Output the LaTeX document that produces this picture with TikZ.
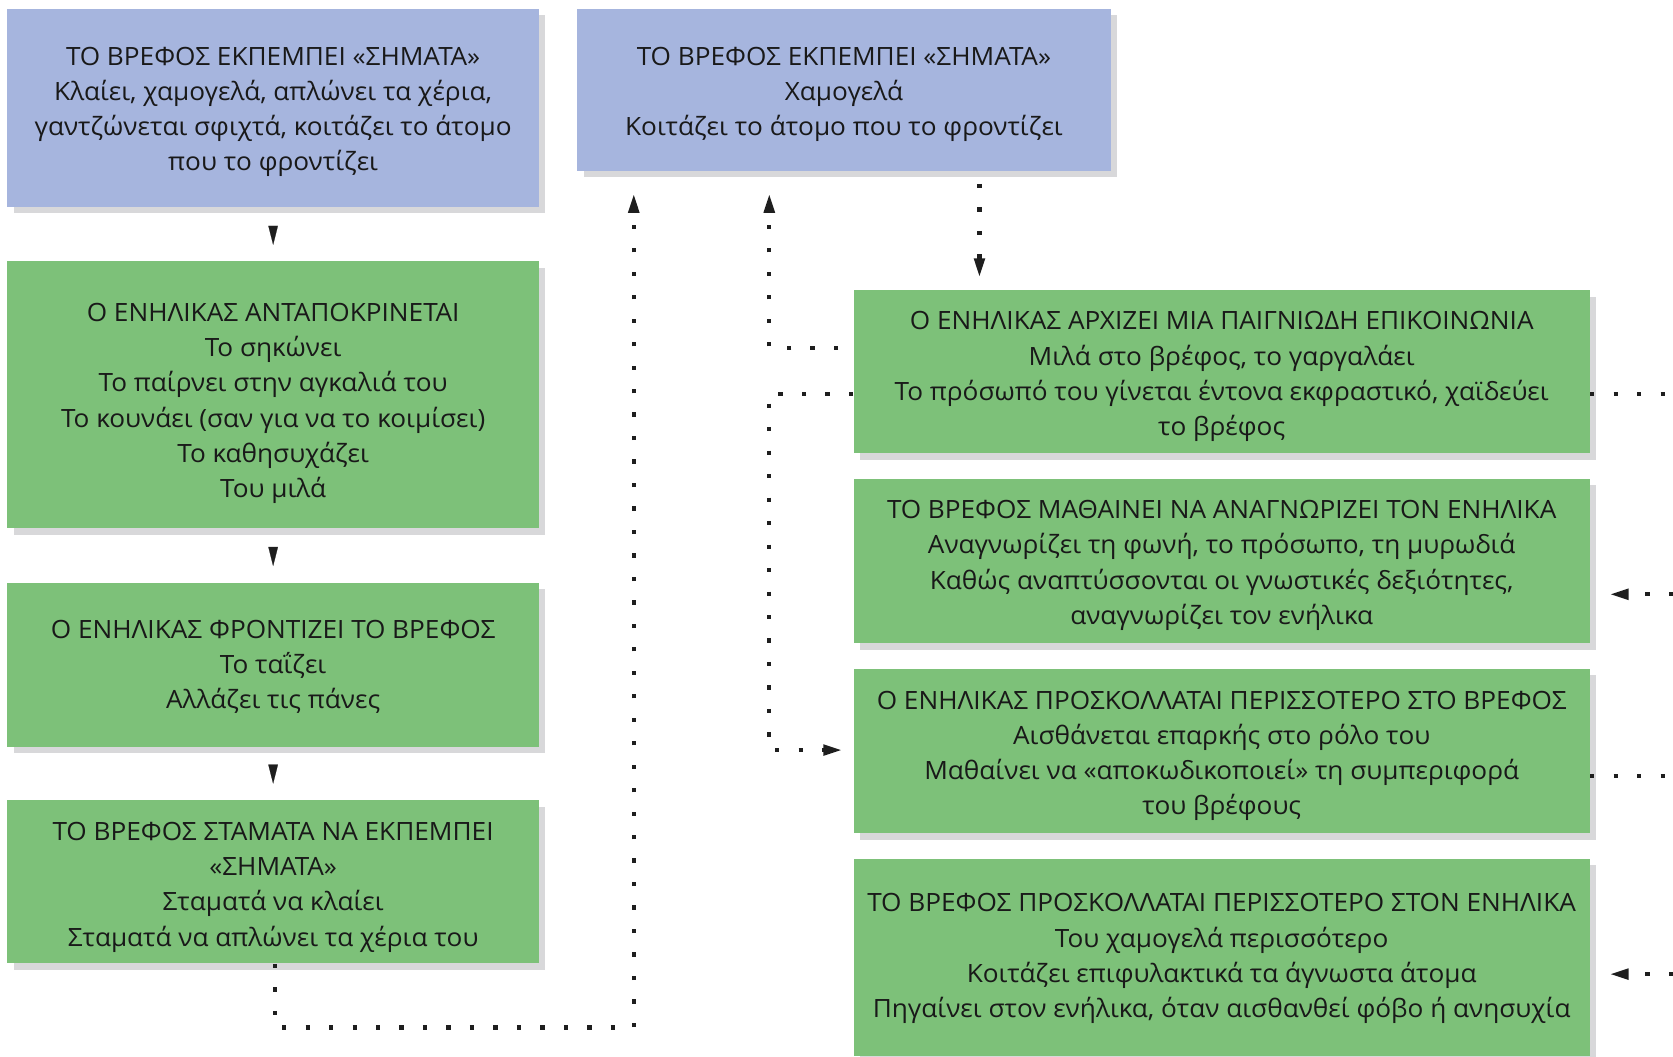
\documentclass[tikz,border=0pt]{standalone}
\usepackage{fontspec}
\setmainfont[FakeStretch=1.04]{Open Sans}
\usetikzlibrary{arrows.meta,shadows}
\definecolor{boxblue}{RGB}{166,181,222}
\definecolor{boxgreen}{RGB}{125,193,121}
\definecolor{shadowgray}{RGB}{216,216,218}
\definecolor{dotcol}{RGB}{30,30,30}
\tikzset{
  box/.style={rectangle, inner sep=0pt,
    general shadow={fill=shadowgray, shadow xshift=3pt, shadow yshift=-3pt}},
  bluebox/.style={box, fill=boxblue},
  greenbox/.style={box, fill=boxgreen},
  boxtext/.style={inner sep=0pt, align=center, text=black!90,
    font=\fontsize{11.8pt}{16.5pt}\selectfont},
  dotline/.style={dotcol, line width=2pt, dash pattern=on 2pt off 9pt},
  tiphead/.style={-{Triangle[length=9pt,width=4.8pt]}},
  tiponly/.style={dotcol, line width=0.1pt, -{Triangle[length=9pt,width=4.5pt]}, shorten <=9pt, shorten >=7.5pt}
}
\begin{document}
\begin{tikzpicture}[x=0.5pt,y=-0.5pt]
\useasboundingbox (0,0) rectangle (1568,990);
\clip (0,0) rectangle (1568,990);
% boxes
\node[bluebox, minimum width=249pt, minimum height=93pt] (A) at (256,101) {};
\node[greenbox, minimum width=249pt, minimum height=125pt] (C) at (256,370) {};
\node[greenbox, minimum width=249pt, minimum height=77pt] (D) at (256,623) {};
\node[greenbox, minimum width=249pt, minimum height=76.5pt] (E) at (256,826.5) {};
\node[bluebox, minimum width=250pt, minimum height=76pt] (B) at (791,84) {};
\node[greenbox, minimum width=345pt, minimum height=76.5pt] (R1) at (1145,348.5) {};
\node[greenbox, minimum width=345pt, minimum height=77pt] (R2) at (1145,526) {};
\node[greenbox, minimum width=345pt, minimum height=77pt] (R3) at (1145,704) {};
\node[greenbox, minimum width=345pt, minimum height=92.5pt] (R4) at (1145,897.5) {};
% texts
\node[boxtext] (At) at ([yshift=-2pt]A.center)
  {ΤΟ ΒΡΕΦΟΣ ΕΚΠΕΜΠΕΙ «ΣΗΜΑΤΑ»\\Κλαίει, χαμογελά, απλώνει τα χέρια,\\γαντζώνεται σφιχτά, κοιτάζει το άτομο\\που το φροντίζει};
\node[boxtext] (Ct) at ([yshift=-4pt]C.center)
  {Ο ΕΝΗΛΙΚΑΣ ΑΝΤΑΠΟΚΡΙΝΕΤΑΙ\\Το σηκώνει\\Το παίρνει στην αγκαλιά του\\Το κουνάει (σαν για να το κοιμίσει)\\Το καθησυχάζει\\Του μιλά};
\node[boxtext] (Dt) at ([yshift=-1pt]D.center)
  {Ο ΕΝΗΛΙΚΑΣ ΦΡΟΝΤΙΖΕΙ ΤΟ ΒΡΕΦΟΣ\\Το ταΐζει\\Αλλάζει τις πάνες};
\node[boxtext] (Et) at ([yshift=-2.5pt]E.center)
  {ΤΟ ΒΡΕΦΟΣ ΣΤΑΜΑΤΑ ΝΑ ΕΚΠΕΜΠΕΙ\\«ΣΗΜΑΤΑ»\\Σταματά να κλαίει\\Σταματά να απλώνει τα χέρια του};
\node[boxtext] (Bt) at ([yshift=-2.2pt]B.center)
  {ΤΟ ΒΡΕΦΟΣ ΕΚΠΕΜΠΕΙ «ΣΗΜΑΤΑ»\\Χαμογελά\\Κοιτάζει το άτομο που το φροντίζει};
\node[boxtext] (R1t) at ([yshift=-2.2pt]R1.center)
  {Ο ΕΝΗΛΙΚΑΣ ΑΡΧΙΖΕΙ ΜΙΑ ΠΑΙΓΝΙΩΔΗ ΕΠΙΚΟΙΝΩΝΙΑ\\Μιλά στο βρέφος, το γαργαλάει\\Το πρόσωπό του γίνεται έντονα εκφραστικό, χαϊδεύει\\το βρέφος};
\node[boxtext] (R2t) at ([yshift=-2pt]R2.center)
  {ΤΟ ΒΡΕΦΟΣ ΜΑΘΑΙΝΕΙ ΝΑ ΑΝΑΓΝΩΡΙΖΕΙ ΤΟΝ ΕΝΗΛΙΚΑ\\Αναγνωρίζει τη φωνή, το πρόσωπο, τη μυρωδιά\\Καθώς αναπτύσσονται οι γνωστικές δεξιότητες,\\αναγνωρίζει τον ενήλικα};
\node[boxtext] (R3t) at ([yshift=-2.2pt]R3.center)
  {Ο ΕΝΗΛΙΚΑΣ ΠΡΟΣΚΟΛΛΑΤΑΙ ΠΕΡΙΣΣΟΤΕΡΟ ΣΤΟ ΒΡΕΦΟΣ\\Αισθάνεται επαρκής στο ρόλο του\\Μαθαίνει να «αποκωδικοποιεί» τη συμπεριφορά\\του βρέφους};
\node[boxtext] (R4t) at ([yshift=-0.5pt]R4.center)
  {ΤΟ ΒΡΕΦΟΣ ΠΡΟΣΚΟΛΛΑΤΑΙ ΠΕΡΙΣΣΟΤΕΡΟ ΣΤΟΝ ΕΝΗΛΙΚΑ\\Του χαμογελά περισσότερο\\Κοιτάζει επιφυλακτικά τα άγνωστα άτομα\\Πηγαίνει στον ενήλικα, όταν αισθανθεί φόβο ή ανησυχία};
% coordinates for routing
\coordinate (eL) at (258,963);
\coordinate (eR) at (594,963);
\coordinate (m1) at (721,326);
\coordinate (m2) at (721,369);
\coordinate (m3) at (721,703);
\coordinate (m4) at (918,0);
\coordinate (r1) at (1568,369);
\coordinate (r2) at (1568,557);
\coordinate (r3) at (1568,727);
\coordinate (r4) at (1568,913);
% left chain arrowheads
\draw[tiponly] (A.south) -- (C.north);
\draw[tiponly] (C.south) -- (D.north);
\draw[tiponly] (D.south) -- (E.north);
% dotted connectors
\draw[dotline, tiphead, shorten >=10.5pt] ([xshift=1pt]E.south) -- (eL) -- (eR) -- (B.south -| eR);
\draw[dotline, tiphead, shorten <=7pt, shorten >=10.5pt] (R1.west |- m1) -- (m1) -- (B.south -| m1);
\draw[dotline, tiphead, shorten >=5pt] (R1.west |- m2) -- (m2) -- (m3) -- (R3.west |- m3);
\draw[dotline, tiphead, shorten <=6pt, shorten >=5.75pt] (B.south -| m4) -- (R1.north -| m4);
% right side
\draw[dotline] (R1.east |- r1) -- (r1);
\draw[dotline, tiphead, shorten >=9pt] (r2) -- (R2.east |- r2);
\draw[dotline] (R3.east |- r3) -- (r3);
\draw[dotline, tiphead, shorten >=9pt] (r4) -- (R4.east |- r4);
\end{tikzpicture}
\end{document}
